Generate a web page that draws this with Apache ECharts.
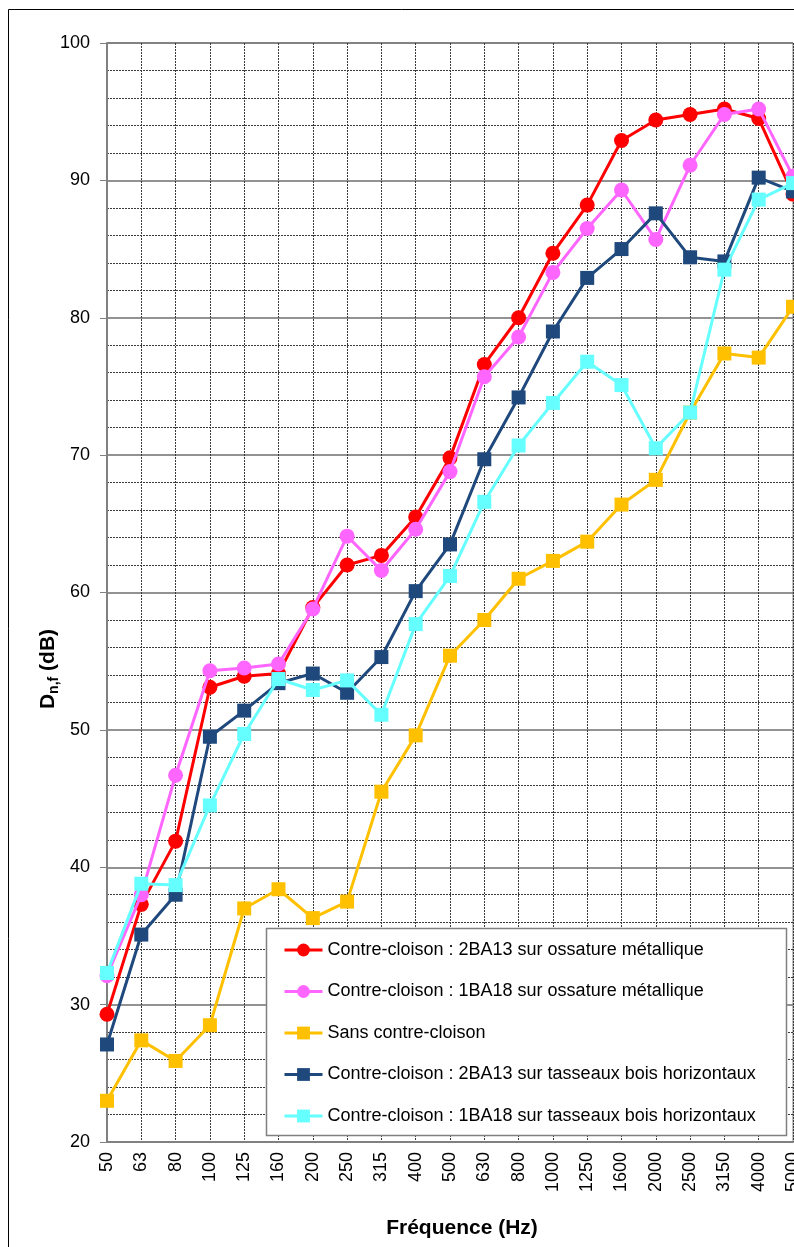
<!DOCTYPE html>
<html>
<head>
<meta charset="utf-8">
<title>Dn,f – contre-cloisons</title>
<script src="https://cdn.jsdelivr.net/npm/echarts@6/dist/echarts.min.js"></script>
<style>
  html, body { margin: 0; padding: 0; background: #fff; }
  #chart { width: 794px; height: 1247px; }
</style>
</head>
<body>
<div id="chart"></div>
<script>
// Third-octave band centre frequencies (Hz)
const categories = ['50', '63', '80', '100', '125', '160', '200', '250', '315', '400', '500',
  '630', '800', '1000', '1250', '1600', '2000', '2500', '3150', '4000', '5000'];

// Dn,f (dB) per band for each configuration
const metal2BA13 = [29.3, 37.3, 41.9, 53.1, 53.9, 54.1, 58.9, 62.0, 62.7, 65.5, 69.8,
  76.6, 80.0, 84.7, 88.2, 92.9, 94.4, 94.8, 95.2, 94.5, 89.0];
const metal1BA18 = [32.1, 38.0, 46.7, 54.3, 54.5, 54.8, 58.8, 64.1, 61.6, 64.6, 68.8,
  75.7, 78.6, 83.3, 86.5, 89.3, 85.7, 91.1, 94.8, 95.2, 90.3];
const sansContreCloison = [23.0, 27.4, 25.9, 28.5, 37.0, 38.4, 36.3, 37.5, 45.5, 49.6, 55.4,
  58.0, 61.0, 62.3, 63.7, 66.4, 68.2, 73.1, 77.4, 77.1, 80.8];
const bois2BA13 = [27.1, 35.1, 38.0, 49.5, 51.4, 53.4, 54.1, 52.7, 55.3, 60.1, 63.5,
  69.7, 74.2, 79.0, 82.9, 85.0, 87.6, 84.4, 84.1, 90.2, 89.2];
const bois1BA18 = [32.3, 38.8, 38.7, 44.5, 49.7, 53.7, 52.9, 53.6, 51.1, 57.7, 61.2,
  66.6, 70.7, 73.8, 76.8, 75.1, 70.5, 73.1, 83.5, 88.6, 89.8];

const seriesNames = [
  'Contre-cloison : 2BA13 sur ossature métallique',
  'Contre-cloison : 1BA18 sur ossature métallique',
  'Sans contre-cloison',
  'Contre-cloison : 2BA13 sur tasseaux bois horizontaux',
  'Contre-cloison : 1BA18 sur tasseaux bois horizontaux'
];
const seriesData = [metal2BA13, metal1BA18, sansContreCloison, bois2BA13, bois1BA18];
const seriesColors = ['#FF0000', '#FF66FF', '#FFC000', '#1F497D', '#66FFFF'];
const seriesSymbols = ['circle', 'circle', 'rect', 'rect', 'rect'];

const FONT = '"Liberation Sans", Arial, sans-serif';

const chart = echarts.init(document.getElementById('chart'), null, { renderer: 'canvas' });

const series = seriesData.map((data, i) => ({
  name: seriesNames[i],
  type: 'line',
  data: data,
  symbol: seriesSymbols[i],
  symbolSize: seriesSymbols[i] === 'circle' ? 15 : 14,
  color: seriesColors[i],
  lineStyle: { width: 3, color: seriesColors[i] },
  itemStyle: { color: seriesColors[i] },
  emphasis: { disabled: true },
  z: 2 + i
}));

chart.setOption({
  animation: false,
  backgroundColor: '#ffffff',
  textStyle: { fontFamily: FONT },
  grid: {
    left: 107, top: 43, right: 1, bottom: 105,
    show: true, borderColor: '#808080', borderWidth: 1,
    containLabel: false,
    outerBoundsMode: 'none'
  },
  xAxis: {
    type: 'category',
    data: categories,
    boundaryGap: false,
    axisLine: { lineStyle: { color: '#808080', width: 2 } },
    axisTick: { show: false },
    axisLabel: {
      rotate: 90, margin: 10, interval: 0,
      color: '#000', fontSize: 18, fontFamily: FONT
    },
    splitLine: {
      show: true, interval: 0,
      lineStyle: { color: '#3a3a3a', width: 1, type: [2, 1] }
    }
  },
  yAxis: {
    type: 'value',
    min: 20, max: 100, interval: 10,
    axisLine: { show: true, lineStyle: { color: '#808080', width: 2 } },
    axisTick: { show: true, length: 7, lineStyle: { color: '#808080', width: 1 } },
    axisLabel: { margin: 17, color: '#000', fontSize: 18, fontFamily: FONT },
    splitLine: { show: true, lineStyle: { color: '#6e6e6e', width: 1.5 } },
    minorTick: { show: false, splitNumber: 5 },
    minorSplitLine: { show: true, lineStyle: { color: '#3a3a3a', width: 1, type: [2, 1] } }
  },
  legend: {
    orient: 'vertical',
    left: 283, top: 941,
    padding: 0,
    itemWidth: 38, itemHeight: 16,
    itemGap: 23.5,
    lineStyle: { width: 3 },
    textStyle: { color: '#000', fontSize: 18, fontFamily: FONT },
    data: seriesNames,
    z: 10
  },
  graphic: [
    { // outer frame
      type: 'rect', silent: true, z: 0,
      shape: { x: 8.5, y: 9.5, width: 900, height: 1400 },
      style: { fill: null, stroke: '#000', lineWidth: 1 }
    },
    { // legend box
      type: 'rect', silent: true, z: 8,
      shape: { x: 266.5, y: 928.5, width: 520, height: 207 },
      style: { fill: '#fff', stroke: '#808080', lineWidth: 1.5 }
    },
    { // y axis title
      type: 'text', silent: true, z: 10,
      x: 48, y: 669, rotation: Math.PI / 2,
      style: {
        text: '{b|D}{s|n,f}{b| (dB)}',
        align: 'center', verticalAlign: 'middle',
        fill: '#000',
        rich: {
          b: { fontSize: 21, fontWeight: 'bold', fontFamily: FONT, lineHeight: 26, verticalAlign: 'middle' },
          s: { fontSize: 14, fontWeight: 'bold', fontFamily: FONT, verticalAlign: 'bottom', lineHeight: 26, padding: [8, 0, 0, 0] }
        }
      }
    },
    { // x axis title
      type: 'text', silent: true, z: 10,
      x: 462, y: 1228,
      style: {
        text: 'Fréquence (Hz)',
        align: 'center', verticalAlign: 'middle',
        fill: '#000', fontSize: 21, fontWeight: 'bold', fontFamily: FONT
      }
    }
  ],
  series: series
});
</script>
</body>
</html>
